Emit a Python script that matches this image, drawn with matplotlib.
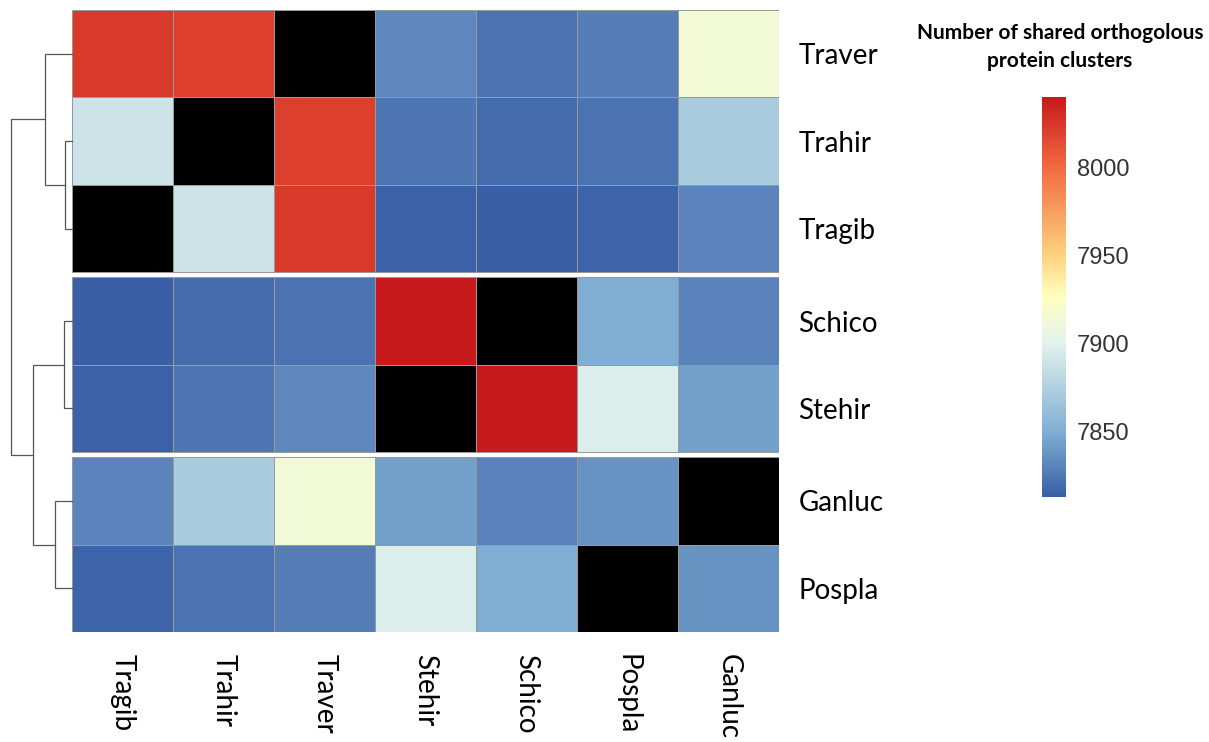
import numpy as np
import matplotlib
matplotlib.use("Agg")
import matplotlib.pyplot as plt
from matplotlib.colors import LinearSegmentedColormap, Normalize

# species in column order of the heatmap
species = ['Tragib', 'Trahir', 'Traver', 'Stehir', 'Schico', 'Pospla', 'Ganluc']
# row order (dendrogram leaf order)
row_order = ['Traver', 'Trahir', 'Tragib', 'Schico', 'Stehir', 'Ganluc', 'Pospla']
col_order = ['Tragib', 'Trahir', 'Traver', 'Stehir', 'Schico', 'Pospla', 'Ganluc']
row_groups = [0, 0, 0, 1, 1, 2, 2]

nan = np.nan
# shared orthologous clusters (symmetric, diagonal left empty)
shared = np.array([
    [nan, 7889, 8024, 7814, 7813, 7815, 7830],   # Tragib
    [7889, nan, 8021, 7824, 7819, 7822, 7871],   # Trahir
    [8024, 8021, nan, 7832, 7822, 7828, 7914],   # Traver
    [7814, 7824, 7832, nan, 8040, 7897, 7844],   # Stehir
    [7813, 7819, 7822, 8040, nan, 7850, 7829],   # Schico
    [7815, 7822, 7828, 7897, 7850, nan, 7837],   # Pospla
    [7830, 7871, 7914, 7844, 7829, 7837, nan],   # Ganluc
])

# dendrogram merges (leaf indices follow row_order, new clusters numbered from 7)
merges = [(1, 2, 7), (3, 4, 8), (5, 6, 17), (0, 7, 27), (8, 9, 39), (10, 11, 61)]

vmin, vmax = 7813, 8040
cbar_ticks = [7850, 7900, 7950, 8000]

cmap = LinearSegmentedColormap.from_list('rdylbu', [
    (0.0, '#3a5fa6'), (0.163, '#80afd3'), (0.383, '#e2f2ee'), (0.5, '#ffffbf'),
    (0.604, '#fdd27f'), (0.824, '#f26a42'), (1.0, '#c8191c')])
cmap.set_bad('black')
norm = Normalize(vmin, vmax)

W, H = 1209, 742
fig = plt.figure(figsize=(W / 100, H / 100), dpi=100)
plt.rcParams['font.family'] = ['Lato', 'DejaVu Sans']

gap = 5 / 87.4
ax = fig.add_axes([72 / W, 1 - 632 / H, 707 / W, 622 / H])
idx = [species.index(s) for s in row_order]
jdx = [species.index(s) for s in col_order]
mat = shared[np.ix_(idx, jdx)]

row_y = np.arange(7) + gap * np.array(row_groups)
for g in range(3):
    rows = [i for i in range(7) if row_groups[i] == g]
    yedges = np.arange(rows[0], rows[-1] + 2) + gap * g
    ax.pcolormesh(np.arange(8), yedges, np.ma.masked_invalid(mat[rows[0]:rows[-1] + 1]),
                  cmap=cmap, norm=norm, edgecolors='#999999', linewidth=0.6)
ax.set_xlim(0, 7)
ax.set_ylim(7 + 2 * gap, 0)
for s in ax.spines.values():
    s.set_visible(False)
ax.set_xticks(np.arange(7) + 0.5)
ax.set_xticklabels(col_order, rotation=270, fontsize=20)
ax.set_yticks(row_y + 0.5)
ax.set_yticklabels(row_order, fontsize=20)
ax.yaxis.tick_right()
ax.tick_params(length=0)
ax.tick_params(axis='y', pad=14)
ax.tick_params(axis='x', pad=16)

# dendrogram
dax = fig.add_axes([0, 1 - 632 / H, 72 / W, 622 / H], sharey=ax)
dax.set_xlim(72, 0)
dax.axis('off')
nodes = [(y + 0.5, 0) for y in row_y]
for a, b, h in merges:
    ya, ha = nodes[a]
    yb, hb = nodes[b]
    dax.plot([ha, h, h, hb], [ya, ya, yb, yb], color='#555555', lw=0.9,
             solid_joinstyle='miter', clip_on=False)
    nodes.append(((ya + yb) / 2, h))

# colorbar
cax = fig.add_axes([1042 / W, 1 - 496.7 / H, 24 / W, 400 / H])
cb = fig.colorbar(plt.cm.ScalarMappable(norm=norm, cmap=cmap), cax=cax, ticks=cbar_ticks)
cb.outline.set_visible(False)
cax.tick_params(length=0, pad=8, labelsize=17, labelcolor='#333333')
for t in cax.get_yticklabels():
    t.set_family('Liberation Sans')
fig.text(1060 / W, 1 - 47 / H, 'Number of shared orthogolous\nprotein clusters',
         ha='center', va='center', fontsize=15, fontweight='bold', linespacing=1.5)

fig.savefig('out.png', dpi=100)
